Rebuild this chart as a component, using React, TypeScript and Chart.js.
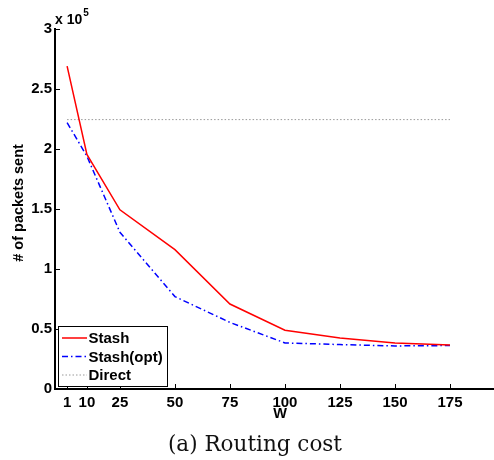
import React, { useEffect, useRef } from "react";
import { Chart, registerables } from "chart.js";

Chart.register(...registerables);

const wValues = [1, 10, 25, 50, 75, 100, 125, 150, 175];
const stash = [269000, 195500, 149300, 116100, 70800, 49000, 42500, 38400, 36700];
const stashOpt = [222000, 194000, 130600, 77000, 55500, 38400, 37000, 35900, 36200];
const direct = [224500, 224500, 224500, 224500, 224500, 224500, 224500, 224500, 224500];
const xTickValues = [1, 10, 25, 50, 75, 100, 125, 150, 175];
const seriesLabels = ["Stash", "Stash(opt)", "Direct"];

const BOLD = "'Liberation Sans', Arial, sans-serif";

const toPoints = (ys: number[]) => wValues.map((w, i) => ({ x: w, y: ys[i] }));

const overlayPlugin = {
  id: "overlay",
  afterDraw(chart: any) {
    const ctx = chart.ctx;
    const area = chart.chartArea;
    const xs = chart.scales.x;
    const ys = chart.scales.y;
    ctx.save();
    // inward ticks
    ctx.strokeStyle = "#000";
    ctx.lineWidth = 1;
    ctx.beginPath();
    ys.ticks.forEach((t: any) => {
      const py = Math.round(ys.getPixelForValue(t.value)) + 0.5;
      ctx.moveTo(area.left, py);
      ctx.lineTo(area.left + 5, py);
    });
    xs.ticks.forEach((t: any) => {
      const px = Math.round(xs.getPixelForValue(t.value)) + 0.5;
      ctx.moveTo(px, area.bottom);
      ctx.lineTo(px, area.bottom - 5);
    });
    ctx.stroke();

    // exponent label
    ctx.fillStyle = "#000";
    ctx.textBaseline = "alphabetic";
    ctx.textAlign = "left";
    ctx.font = `bold 14px ${BOLD}`;
    ctx.fillText("x 10", area.left, 24);
    const w = ctx.measureText("x 10").width;
    ctx.font = `bold 10px ${BOLD}`;
    ctx.fillText("5", area.left + w + 1, 16);

    // legend
    const bx = 58, by = 326, bw = 109, bh = 60;
    ctx.fillStyle = "#fff";
    ctx.fillRect(bx, by, bw, bh);
    ctx.strokeStyle = "#000";
    ctx.lineWidth = 1;
    ctx.strokeRect(bx + 0.5, by + 0.5, bw, bh);
    const rows = [338, 356.5, 375];
    chart.data.datasets.forEach((ds: any, i: number) => {
      const y = rows[i];
      ctx.strokeStyle = ds.borderColor;
      ctx.lineWidth = ds.borderWidth;
      ctx.setLineDash(ds.borderDash || []);
      ctx.beginPath();
      ctx.moveTo(62, y);
      ctx.lineTo(87, y);
      ctx.stroke();
      ctx.setLineDash([]);
      ctx.fillStyle = "#000";
      ctx.font = `bold 15px ${BOLD}`;
      ctx.textBaseline = "middle";
      ctx.fillText(ds.label, 88.5, y + 1);
    });
    ctx.restore();
  },
};

export default function App() {
  const ref = useRef<HTMLCanvasElement | null>(null);
  useEffect(() => {
    if (!ref.current) return;
    const chart = new Chart(ref.current, {
      type: "line",
      data: {
        datasets: [
          {
            label: seriesLabels[0],
            data: toPoints(stash),
            borderColor: "#ff0000",
            borderWidth: 1.5,
            pointRadius: 0,
            tension: 0,
          },
          {
            label: seriesLabels[1],
            data: toPoints(stashOpt),
            borderColor: "#0000ff",
            borderWidth: 1.5,
            borderDash: [6, 3, 1.5, 3],
            pointRadius: 0,
            tension: 0,
          },
          {
            label: seriesLabels[2],
            data: toPoints(direct),
            borderColor: "#999999",
            borderWidth: 1,
            borderDash: [1.5, 2],
            pointRadius: 0,
            tension: 0,
          },
        ],
      },
      options: {
        animation: false,
        responsive: false,
        devicePixelRatio: 1,
        layout: { padding: { top: 29, right: 7, left: 0, bottom: 0 } },
        plugins: { legend: { display: false }, tooltip: { enabled: false } },
        scales: {
          x: {
            type: "linear",
            min: -4.5,
            max: 200,
            afterBuildTicks: (scale: any) => {
              scale.ticks = xTickValues.map((v) => ({ value: v }));
            },
            afterFit: (scale: any) => {
              scale.height = 71;
            },
            grid: { display: true, drawOnChartArea: false, drawTicks: false },
            border: { display: true, color: "#000", width: 2 },
            ticks: {
              color: "#000",
              padding: 5,
              maxRotation: 0,
              autoSkip: false,
              font: { family: BOLD, size: 15, weight: "bold" },
              callback: (v: any) => String(v),
            },
            title: {
              display: true,
              text: "W",
              color: "#000",
              font: { family: BOLD, size: 14.5, weight: "bold" },
              padding: { top: 0, bottom: 37 },
            },
          },
          y: {
            min: 0,
            max: 300000,
            afterFit: (scale: any) => {
              scale.width = 55;
            },
            grid: { display: true, drawOnChartArea: false, drawTicks: false },
            border: { display: true, color: "#000", width: 2 },
            ticks: {
              stepSize: 50000,
              color: "#000",
              padding: 3,
              font: { family: BOLD, size: 15, weight: "bold" },
              callback: (v: any) => String(Math.round(Number(v) / 10000) / 10),
            },
            title: {
              display: true,
              text: "   # of packets sent",
              color: "#000",
              font: { family: BOLD, size: 14.5, weight: "bold" },
              padding: { top: 10.5, bottom: 0 },
            },
          },
        },
      },
      plugins: [overlayPlugin],
    } as any);
    return () => chart.destroy();
  }, []);

  return (
    <div
      style={{
        position: "absolute",
        left: 0,
        top: 0,
        width: 494,
        height: 460,
        overflow: "hidden",
        background: "#fff",
      }}
    >
      <canvas ref={ref} width={512} height={460} style={{ display: "block" }} />
      <div
        style={{
          position: "absolute",
          left: 0,
          width: 510,
          top: 430,
          textAlign: "center",
          fontFamily: "'DejaVu Serif', serif",
          fontSize: 21.5,
          lineHeight: "28px",
          color: "#111",
          whiteSpace: "nowrap",
        }}
      >
        (a) Routing cost
      </div>
    </div>
  );
}
